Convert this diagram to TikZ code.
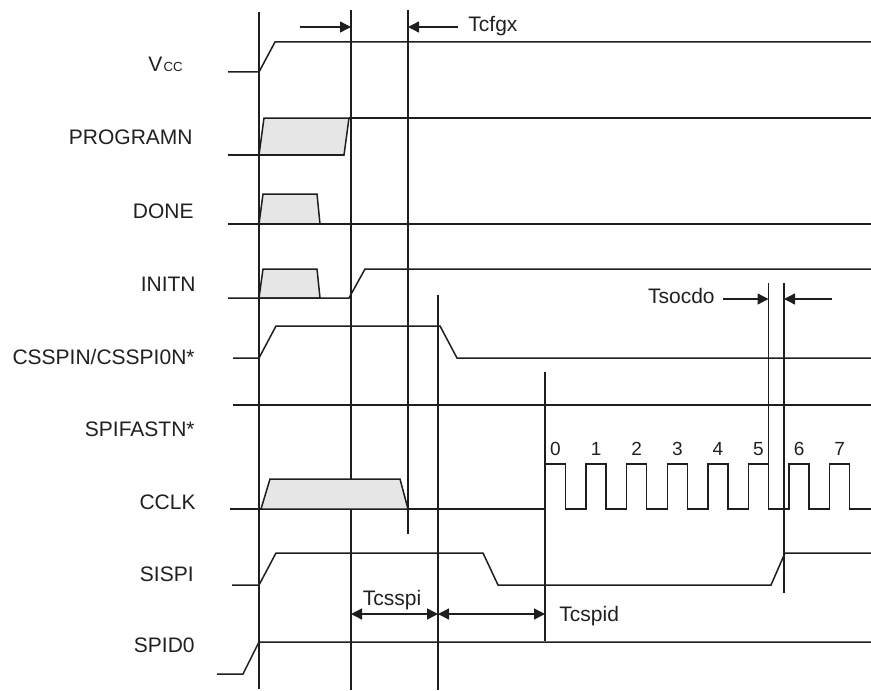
\documentclass[tikz,border=0pt]{standalone}
\usepackage{fontspec}
\setmainfont{Liberation Sans}
\usetikzlibrary{arrows.meta}
\definecolor{wave}{HTML}{1E1E1E}
\definecolor{shade}{HTML}{E6E6E6}
\definecolor{txt}{HTML}{231F20}

\begin{document}
\begin{tikzpicture}[
  x=0.5pt,y=-0.5pt,
  font=\fontsize{10.5}{12}\selectfont,
  sig/.style={draw=wave,line width=0.75pt},
  tline/.style={draw=wave,line width=0.7pt},
  pulse/.style={sig,fill=shade},
  lbl/.style={text=txt,inner sep=0pt,anchor=base east},
  num/.style={text=txt,inner sep=0pt,anchor=base,font=\fontsize{9.5}{11}\selectfont},
  arr/.style={-{Triangle[length=5.5pt,width=5.5pt]},draw=wave,line width=0.7pt},
  dbl/.style={{Triangle[length=5.5pt,width=5.5pt]}-{Triangle[length=5.5pt,width=5.5pt]},draw=wave,line width=0.7pt}
]
\useasboundingbox (0,0) rectangle (871,690);

\node[lbl] (vcc) at (183,72) {V\kern0.6pt{\fontsize{6.6}{7}\selectfont CC}};
\node[lbl] (prog) at (193,144) {PROGRAMN};
\node[lbl] (done) at (194,218) {DONE};
\node[lbl] (initn) at (196,291) {INITN};
\node[lbl] (csspin) at (195,364) {CSSPIN/CSSPI0N*};
\node[lbl] (spifast) at (195,436) {SPIFASTN*};
\node[lbl] (cclk) at (196,509) {CCLK};
\node[lbl] (sispi) at (194,581) {SISPI};
\node[lbl] (spido) at (195,652) {SPID0};

\foreach \n/\x/\a/\b in {1/259/12/689, 2/351/10/690, 3/408/10/534, 4/438/295/690,
    5/545/372/641, 6/768.5/283/509, 7/784/283/593} {
  \coordinate (v\n) at (\x,\a);
  \draw[tline] (v\n) -- (\x,\b);
}

\draw[sig] (228,72) -- (259,72) -- (275,42) -- (871,42);
\draw[pulse] (259,155) -- (264,118) -- (349,118) -- (344,155) -- cycle;
\draw[sig] (228,155) -- (344,155);
\draw[sig] (349,118) -- (871,118);
\draw[pulse] (259,224) -- (263,194) -- (317,194) -- (320,224) -- cycle;
\draw[sig] (228,224) -- (871,224);
\draw[pulse] (259,298) -- (263,269) -- (317,269) -- (320,298) -- cycle;
\draw[sig] (228,298) -- (349,298) -- (365,269) -- (871,269);
\draw[sig] (233,358) -- (259,358) -- (276,326) -- (440,326) -- (457,358) -- (871,358);
\draw[sig] (233,405) -- (871,405);
\draw[pulse] (261,509) -- (270,479) -- (400,479) -- (408,509) -- cycle;
\draw[sig] (230,509) -- (261,509);
\draw[sig] (408,509) foreach \k in {0,...,7} {
    -- ({545.5+40.6*\k},509) -- ++(0,-45) -- ++(20,0) -- ++(0,45) } -- (871,509);
\draw[sig] (232,585) -- (259,585) -- (276,553) -- (483,553) -- (498,585) -- (771,585) -- (785,553) -- (871,553);
\draw[sig] (217,674) -- (243,674) -- (259,642) -- (871,642);

\foreach \k in {0,...,7}
  \node[num] (bit\k) at ({555.5+40.6*\k},455) {\k};

\coordinate (cfgA) at (300,27);
\coordinate (cfgB) at (458,27);
\draw[arr] (cfgA) -- (cfgA -| v2);
\draw[arr] (cfgB) -- (cfgB -| v3);
\node[lbl,anchor=base west] (cfgx) at (468,32) {Tcfgx};

\node[lbl] (socdo) at (715,303) {Tsocdo};
\coordinate (socA) at (723,299);
\coordinate (socB) at (832,299);
\draw[arr] (socA) -- (socA -| v6);
\draw[arr] (socB) -- (socB -| v7);

\coordinate (spiY) at (500,614);
\draw[dbl] (spiY -| v2) -- (spiY -| v4);
\draw[dbl] (spiY -| v4) -- (spiY -| v5);
\node[lbl,anchor=base] (csspi) at (392,605) {Tcsspi};
\node[lbl,anchor=base west] (cspid) at (559,621) {Tcspid};
\end{tikzpicture}
\end{document}
